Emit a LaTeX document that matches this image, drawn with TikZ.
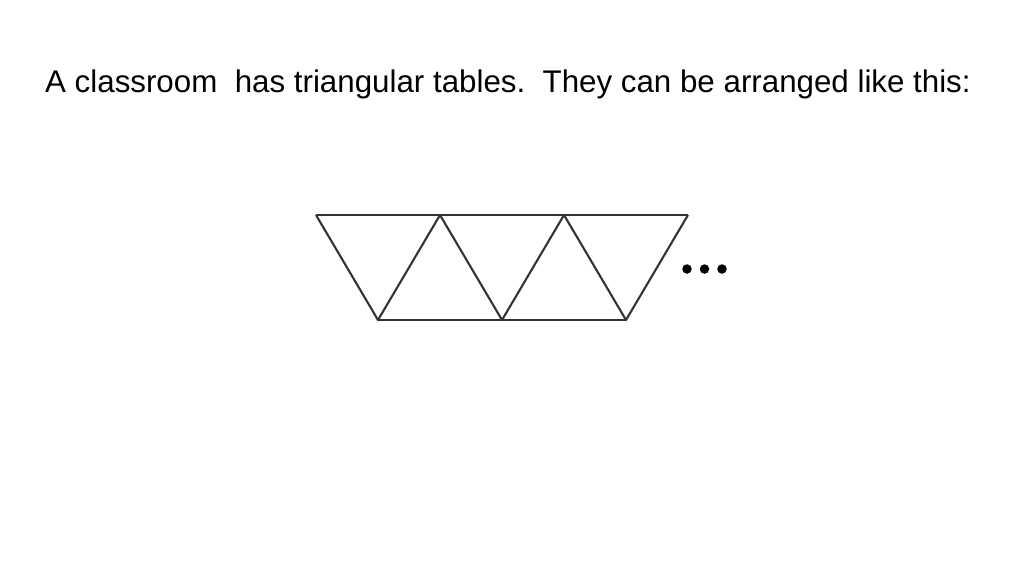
\documentclass[tikz,border=0pt]{standalone}
\usepackage{fontspec}
\setmainfont{Liberation Sans}
\begin{document}
\begin{tikzpicture}[x=1pt,y=-1pt,
  edge/.style={draw=black!80,line width=2.1pt,line join=round},
  dot/.style={circle,fill=black,inner sep=0pt,minimum size=9.5pt},
  title/.style={anchor=base west,inner sep=0pt,font=\fontsize{31.3}{36}\selectfont}]
\useasboundingbox (0,0) rectangle (1024,576);
\node[title] (t) at (45,92) {A classroom\ \ has triangular tables.\ \ They can be arranged like this:};
\coordinate (a1) at (316,215);
\coordinate (a2) at (440,215);
\coordinate (a3) at (564,215);
\coordinate (a4) at (688,215);
\coordinate (b1) at (378,320);
\coordinate (b2) at (502,320);
\coordinate (b3) at (626,320);
\draw[edge] (a1) -- (a4);
\draw[edge] (b1) -- (b3);
\draw[edge] (a1) -- (b1) -- (a2) -- (b2) -- (a3) -- (b3) -- (a4);
\node[dot] (d1) at (687,269) {};
\node[dot] (d2) at (704.5,269) {};
\node[dot] (d3) at (722,269) {};
\end{tikzpicture}
\end{document}
